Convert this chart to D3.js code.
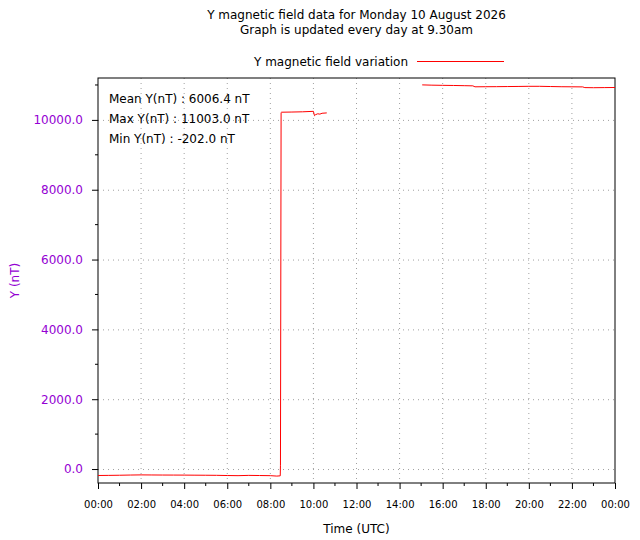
<!DOCTYPE html>
<html lang="en">
<head>
<meta charset="UTF-8">
<title>Y magnetic field</title>
<style>
  body { margin: 0; background: #fff; }
  svg text { font-family: "DejaVu Sans", sans-serif; }
</style>
</head>
<body>
<div id="chart"></div>
<script src="https://d3js.org/d3.v7.min.js"></script>
<script>
// data: hours since 00:00 UTC, Y in nT (null = gap)
var hours = [0, 0.5, 1, 1.5, 2, 2.5, 3, 3.5, 4, 4.5, 5, 5.5, 6, 6.5, 7, 7.5, 8, 8.3, 8.46, 8.47, 8.5, 8.52,
             9, 9.5, 10, 10.05, 10.1, 10.2, 10.3, 10.4, 10.62, 12.8,
             15.05, 15.5, 16, 16.5, 17, 17.4, 17.5, 18, 18.5, 19, 19.5, 20, 20.5, 21, 21.5, 22, 22.5, 22.6, 23, 23.5, 24];
var yValues = [-185, -182, -178, -172, -168, -170, -172, -173, -174, -176, -178, -180, -186, -190, -182, -186, -190, -202, -195, 110, 10210, 10220,
               10225, 10232, 10245, 10120, 10150, 10175, 10165, 10190, 10200, null,
               11003, 10995, 10990, 10986, 10980, 10975, 10948, 10950, 10952, 10955, 10958, 10962, 10962, 10956, 10950, 10948, 10945, 10925, 10922, 10925, 10928];
var xTickLabels = ["00:00", "02:00", "04:00", "06:00", "08:00", "10:00", "12:00",
                   "14:00", "16:00", "18:00", "20:00", "22:00", "00:00"];
var yTicks = [0, 2000, 4000, 6000, 8000, 10000];
var statLines = ["Mean Y(nT) : 6006.4 nT", "Max Y(nT) : 11003.0 nT", "Min Y(nT) : -202.0 nT"];
var titleLines = ["Y magnetic field data for Monday 10 August 2026", "Graph is updated every day at 9.30am"];
var seriesName = "Y magnetic field variation";

var W = 640, H = 540;
var margin = {top: 78, right: 25, bottom: 57, left: 98};
var width = W - margin.left - margin.right,
    height = H - margin.top - margin.bottom;
var purple = "#9400d3";

var svg = d3.select("#chart").append("svg")
    .attr("width", W).attr("height", H);

// titles
svg.selectAll(".title").data(titleLines).enter().append("text")
    .attr("x", margin.left + width / 2)
    .attr("y", function(d, i) { return 19 + i * 15; })
    .attr("text-anchor", "middle")
    .style("font-size", "12px")
    .text(function(d) { return d; });

var g = svg.append("g").attr("transform", "translate(" + margin.left + "," + margin.top + ")");

var x = d3.scaleLinear().domain([0, 24]).range([0, width]);
var y = d3.scaleLinear().domain([-400, 11200]).range([height, 0]);

// grid
g.append("g").selectAll("line").data(d3.range(2, 24, 2)).enter().append("line")
    .attr("x1", function(d) { return x(d); }).attr("x2", function(d) { return x(d); })
    .attr("y1", 0).attr("y2", height)
    .attr("stroke", "#a0a0a0").attr("stroke-width", 1).attr("stroke-dasharray", "1,4");
g.append("g").selectAll("line").data(yTicks).enter().append("line")
    .attr("x1", 0).attr("x2", width)
    .attr("y1", function(d) { return y(d) + 0.5; }).attr("y2", function(d) { return y(d) + 0.5; })
    .attr("stroke", "#a0a0a0").attr("stroke-width", 1).attr("stroke-dasharray", "1,4");

// minor ticks
g.append("g").selectAll("line").data(d3.range(1, 24, 2)).enter().append("line")
    .attr("x1", function(d) { return x(d); }).attr("x2", function(d) { return x(d); })
    .attr("y1", height).attr("y2", height + 3).attr("stroke", "#000");
g.append("g").selectAll("line").data(d3.range(0, 11001, 1000).filter(function(v) { return v % 2000 !== 0; })).enter().append("line")
    .attr("x1", -3).attr("x2", 0)
    .attr("y1", function(d) { return y(d); }).attr("y2", function(d) { return y(d); })
    .attr("stroke", "#000");

// axes
var xAxis = d3.axisBottom(x).tickValues(d3.range(0, 25, 2))
    .tickFormat(function(d, i) { return xTickLabels[i]; })
    .tickSizeInner(6).tickSizeOuter(0).tickPadding(12);
var gx = g.append("g").attr("transform", "translate(0," + height + ")").call(xAxis);
gx.select(".domain").remove();
gx.selectAll("text").style("font-size", "10px").style("font-family", "DejaVu Sans");

var yAxis = d3.axisLeft(y).tickValues(yTicks)
    .tickFormat(function(d) { return d3.format(".1f")(d); })
    .tickSizeInner(6).tickSizeOuter(0).tickPadding(9);
var gy = g.append("g").call(yAxis);
gy.select(".domain").remove();
gy.selectAll("text").style("font-size", "12px").style("font-family", "DejaVu Sans").attr("fill", purple);

// frame
g.append("rect").attr("x", 0).attr("y", 0).attr("width", width).attr("height", height)
    .attr("fill", "none").attr("stroke", "#000").attr("stroke-width", 1);

// data line
var pts = hours.map(function(h, i) { return {h: h, v: yValues[i]}; });
var line = d3.line()
    .defined(function(d) { return d.v !== null; })
    .x(function(d) { return x(d.h); })
    .y(function(d) { return y(d.v); });
g.append("path").datum(pts)
    .attr("d", line)
    .attr("fill", "none").attr("stroke", "#ff0000").attr("stroke-width", 1);

// stats
g.selectAll(".stat").data(statLines).enter().append("text")
    .attr("x", 11)
    .attr("y", function(d, i) { return 25 + i * 20; })
    .style("font-size", "12px")
    .text(function(d) { return d; });

// legend
svg.append("text").attr("x", 408).attr("y", 66)
    .attr("text-anchor", "end").style("font-size", "12px").text(seriesName);
svg.append("line").attr("x1", 417).attr("x2", 504).attr("y1", 61.5).attr("y2", 61.5)
    .attr("stroke", "#ff0000").attr("stroke-width", 1);

// axis labels
svg.append("text").attr("x", margin.left + width / 2).attr("y", 533)
    .attr("text-anchor", "middle").style("font-size", "12px").text("Time (UTC)");
svg.append("text").attr("transform", "translate(19," + (margin.top + height / 2) + ") rotate(-90)")
    .attr("text-anchor", "middle").style("font-size", "12px").attr("fill", purple).text("Y (nT)");
</script>
</body>
</html>
